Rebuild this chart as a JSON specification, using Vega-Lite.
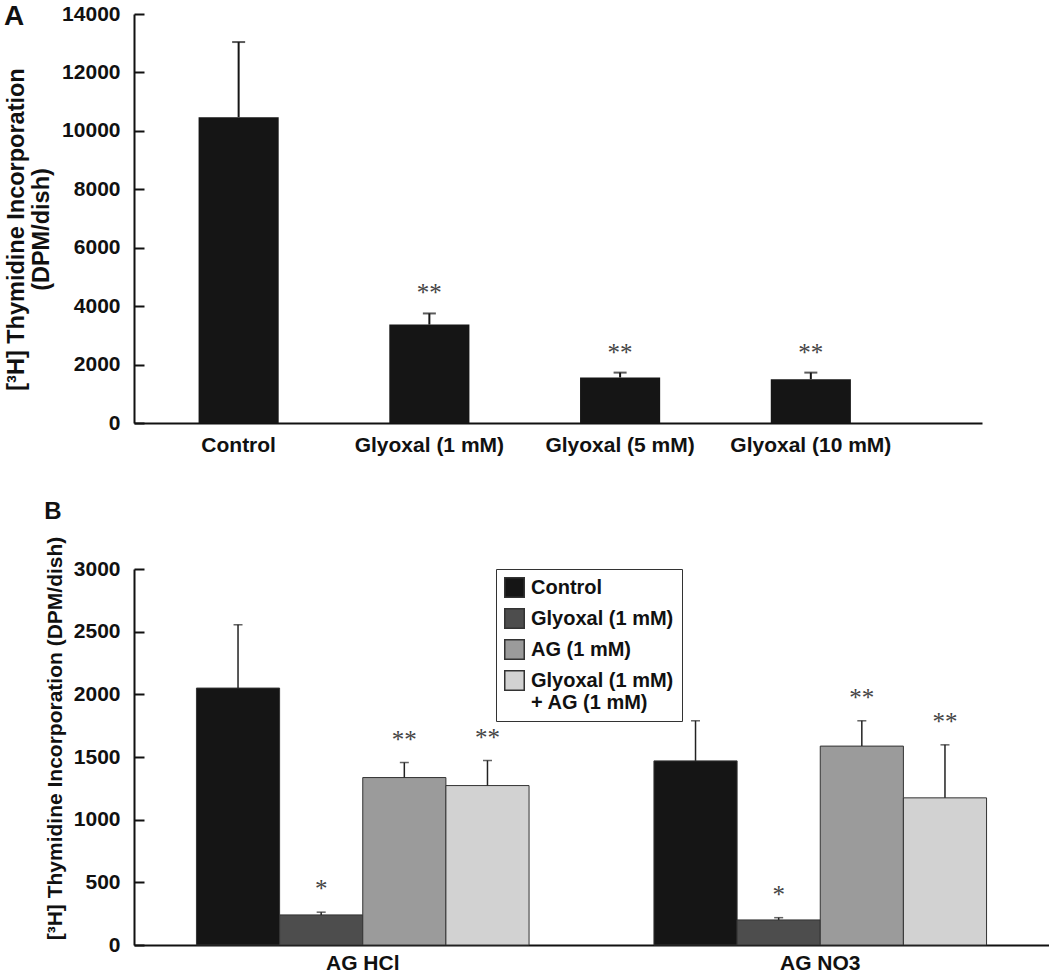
{
  "$schema": "https://vega.github.io/schema/vega-lite/v6.json",
  "padding": {"left": 4, "top": 3, "right": 0, "bottom": 0},
  "background": "white",
  "spacing": 45,
  "resolve": {"legend": {"color": "independent"}, "scale": {"color": "independent"}},
  "config": {
    "font": "Liberation Sans",
    "view": {"stroke": null},
    "axis": {
      "labelFont": "Liberation Sans", "labelFontWeight": "bold", "labelFontSize": 21, "labelColor": "#111",
      "titleFont": "Liberation Sans", "titleFontWeight": "bold", "titleColor": "#111",
      "domainColor": "#111", "domainWidth": 2, "tickColor": "#111", "tickWidth": 2, "grid": false
    },
    "title": {"font": "Liberation Sans", "fontWeight": "bold", "anchor": "start", "frame": "bounds", "color": "#111"}
  },
  "vconcat": [
    {
      "width": 848,
      "height": 409,
      "title": {"text": "A", "fontSize": 28, "offset": -28},
      "data": {"values": [
        {"condition": "Control", "value": 10470, "upper": 13040, "sig": ""},
        {"condition": "Glyoxal (1 mM)", "value": 3370, "upper": 3750, "sig": "**"},
        {"condition": "Glyoxal (5 mM)", "value": 1560, "upper": 1725, "sig": "**"},
        {"condition": "Glyoxal (10 mM)", "value": 1500, "upper": 1725, "sig": "**"}
      ]},
      "encoding": {
        "x": {"field": "condition", "type": "nominal", "sort": null,
          "scale": {"paddingInner": 0.58, "paddingOuter": 0.513, "align": 0.33},
          "axis": {"title": null, "labelAngle": 0, "ticks": false, "labelPadding": 11}}
      },
      "layer": [
        {"mark": {"type": "bar", "color": "#151515"},
         "encoding": {"y": {"field": "value", "type": "quantitative",
           "scale": {"domain": [0, 14000], "nice": false},
           "axis": {"values": [0, 2000, 4000, 6000, 8000, 10000, 12000, 14000], "format": "d",
             "title": ["[³H] Thymidine Incorporation", "(DPM/dish)"], "titleFontSize": 23.5,
             "tickSize": -10, "labelPadding": 24, "titlePadding": 8, "titleY": 215}}}},
        {"mark": {"type": "rule", "color": "#151515", "strokeWidth": 2},
         "encoding": {"y": {"field": "value", "type": "quantitative"}, "y2": {"field": "upper"}}},
        {"mark": {"type": "tick", "color": "#151515", "thickness": 2, "size": 13},
         "encoding": {"y": {"field": "upper", "type": "quantitative"}}},
        {"mark": {"type": "text", "font": "Liberation Serif", "fontSize": 25, "color": "#444", "baseline": "alphabetic", "dy": -12},
         "encoding": {"y": {"field": "upper", "type": "quantitative"}, "text": {"field": "sig"}}}
      ]
    },
    {
      "width": 915,
      "height": 376,
      "title": {"text": "B", "fontSize": 24, "offset": 12},
      "data": {"values": [
        {"group": "AG HCl", "treatment": "Control", "value": 2050, "upper": 2555, "sig": ""},
        {"group": "AG HCl", "treatment": "Glyoxal (1 mM)", "value": 240, "upper": 262, "sig": "*"},
        {"group": "AG HCl", "treatment": "AG (1 mM)", "value": 1336, "upper": 1456, "sig": "**"},
        {"group": "AG HCl", "treatment": "Glyoxal (1 mM) + AG (1 mM)", "value": 1272, "upper": 1472, "sig": "**"},
        {"group": "AG NO3", "treatment": "Control", "value": 1469, "upper": 1789, "sig": ""},
        {"group": "AG NO3", "treatment": "Glyoxal (1 mM)", "value": 200, "upper": 218, "sig": "*"},
        {"group": "AG NO3", "treatment": "AG (1 mM)", "value": 1587, "upper": 1789, "sig": "**"},
        {"group": "AG NO3", "treatment": "Glyoxal (1 mM) + AG (1 mM)", "value": 1174, "upper": 1597, "sig": "**"}
      ]},
      "encoding": {
        "x": {"field": "group", "type": "nominal", "sort": null,
          "scale": {"paddingInner": 0.273, "paddingOuter": 0.1365},
          "axis": {"title": null, "labelAngle": 0, "ticks": false, "labelPadding": 7}},
        "xOffset": {"field": "treatment", "type": "nominal",
          "scale": {"domain": ["Control", "Glyoxal (1 mM)", "AG (1 mM)", "Glyoxal (1 mM) + AG (1 mM)"], "paddingInner": 0, "paddingOuter": 0}}
      },
      "layer": [
        {"mark": {"type": "bar", "stroke": "#333", "strokeWidth": 1},
         "encoding": {
           "y": {"field": "value", "type": "quantitative",
             "scale": {"domain": [0, 3000], "nice": false},
             "axis": {"values": [0, 500, 1000, 1500, 2000, 2500, 3000], "format": "d",
               "title": "[³H] Thymidine Incorporation (DPM/dish)", "titleFontSize": 21,
               "tickSize": -10, "labelPadding": 24, "titlePadding": 8, "titleY": 169}},
           "color": {"field": "treatment", "type": "nominal",
             "scale": {"domain": ["Control", "Glyoxal (1 mM)", "AG (1 mM)", "Glyoxal (1 mM) + AG (1 mM)"],
               "range": ["#151515", "#4d4d4d", "#9b9b9b", "#d2d2d2"]},
             "legend": {"orient": "none", "legendX": 362, "legendY": 0, "title": null,
               "symbolType": "square", "symbolSize": 380, "symbolStrokeColor": "#333", "symbolStrokeWidth": 1.5,
               "symbolOpacity": 1,
               "labelFont": "Liberation Sans", "labelFontWeight": "bold", "labelFontSize": 20, "labelColor": "#111",
               "labelLimit": 300, "labelOffset": 6, "rowPadding": 4, "padding": 8, "strokeColor": "#333",
               "labelExpr": "datum.value == 'Glyoxal (1 mM) + AG (1 mM)' ? ['Glyoxal (1 mM)', '  + AG (1 mM)'] : datum.label"}}
         }},
        {"mark": {"type": "rule", "color": "#222", "strokeWidth": 1.5},
         "encoding": {"y": {"field": "value", "type": "quantitative"}, "y2": {"field": "upper"}}},
        {"mark": {"type": "tick", "color": "#222", "thickness": 1.5, "size": 9},
         "encoding": {"y": {"field": "upper", "type": "quantitative"}}},
        {"mark": {"type": "text", "font": "Liberation Serif", "fontSize": 25, "color": "#444", "baseline": "alphabetic", "dy": -15},
         "encoding": {"y": {"field": "upper", "type": "quantitative"}, "text": {"field": "sig"}}}
      ]
    }
  ]
}
